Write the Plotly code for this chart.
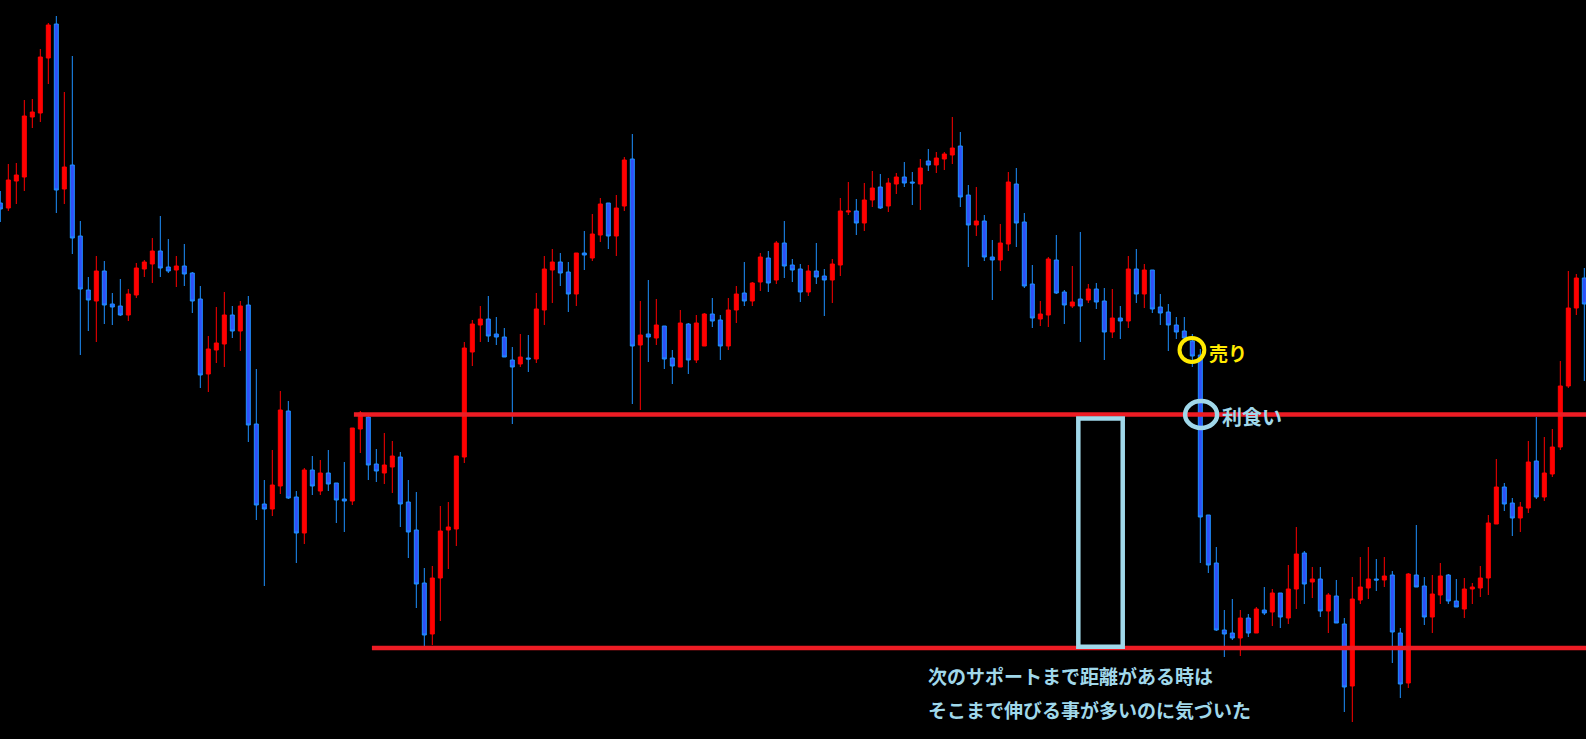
import plotly.graph_objects as go

# candle index (one per bar)
bars = list(range(199))

open_ = [537,532,559,563,623,627,682,716,551,575,
504,450,439,469,436,434,425,445,471,476,
489,473,470,474,467,441,366,390,396,425,
409,435,316,236,231,254,329,243,207,270,
249,267,257,241,239,311,323,276,267,273,
283,238,210,157,106,162,210,211,283,388,
415,421,406,403,380,376,382,381,430,470,
478,468,446,487,482,505,537,504,534,581,
395,406,402,414,382,373,416,380,394,426,
420,394,430,447,439,458,482,460,497,475,
471,448,469,464,460,475,528,529,517,540,
553,534,556,563,558,556,579,575,581,585,
594,545,515,519,483,480,496,556,518,456,
421,425,480,448,434,441,440,451,439,408,
422,419,471,446,470,433,428,415,409,399,
385,225,177,110,107,102,122,107,130,128,
147,122,151,187,158,161,129,144,116,54,
140,152,161,160,165,107,57,165,154,123,
145,165,139,131,151,152,162,216,253,237,
222,232,279,243,266,293,354,432,462]

high = [549,576,577,640,641,691,717,724,648,684,
519,463,484,479,447,461,451,477,480,502,
524,501,484,496,468,454,404,433,448,434,
439,444,371,260,290,349,339,249,272,284,
280,290,257,278,312,329,326,291,307,299,
288,260,248,172,174,234,238,284,398,420,
434,444,423,412,393,406,405,447,484,491,
487,478,487,509,526,542,537,545,583,606,
439,460,441,414,390,430,417,425,427,442,
425,442,454,478,458,487,489,499,519,481,
476,475,497,471,481,542,558,541,557,569,
566,562,567,578,568,581,591,588,588,623,
608,555,553,525,500,516,568,572,527,475,
439,483,505,450,474,508,456,457,452,451,
434,484,491,476,470,446,436,423,423,406,
391,225,193,130,141,130,126,133,153,151,
147,175,213,189,173,173,147,160,122,163,
183,193,181,183,169,112,167,215,163,165,
177,166,161,162,157,174,225,281,257,242,
238,299,323,303,311,379,469,466,472]

low = [518,529,536,549,612,618,656,527,536,486,
385,409,398,416,415,424,419,442,463,457,
463,467,453,454,427,352,348,377,373,402,
389,298,220,154,224,246,241,177,196,245,
245,249,217,208,235,287,260,258,256,247,
213,182,132,93,95,119,171,194,277,374,
398,398,395,383,316,373,368,377,415,437,
454,428,434,470,479,498,491,484,529,336,
330,378,395,371,356,373,366,377,394,413,
380,390,417,434,434,449,448,456,462,458,
438,444,456,424,437,464,525,505,509,533,
531,528,546,553,535,530,569,567,570,576,
533,473,504,479,440,469,489,493,452,412,
414,413,446,416,432,398,437,431,380,402,
401,412,437,432,427,415,389,401,398,373,
177,167,109,83,100,84,103,107,125,114,
112,116,131,136,142,123,107,117,28,18,
136,141,149,153,77,42,52,153,115,107,
136,136,133,122,136,143,145,216,229,204,
208,227,241,239,263,290,352,425,359]

close = [531,560,565,624,628,683,715,550,573,502,
451,440,469,435,433,425,446,472,478,489,
472,469,474,466,439,365,391,397,425,409,
434,315,235,231,255,330,242,207,270,254,
267,256,240,239,312,327,275,269,275,284,
236,208,156,105,162,209,213,284,392,416,
421,404,403,383,373,383,381,431,471,478,
467,446,487,485,506,536,504,532,580,394,
405,403,415,381,374,417,380,417,426,419,
394,430,446,439,457,483,457,497,474,470,
448,469,463,460,476,529,529,517,540,552,
532,557,563,557,557,572,575,582,586,592,
543,515,519,483,480,497,558,517,454,422,
426,481,447,435,438,434,451,438,408,422,
419,471,446,470,431,427,415,408,402,384,
223,175,110,106,102,122,107,131,127,147,
123,151,186,156,161,129,145,117,53,141,
153,161,160,164,108,56,166,153,123,146,
164,139,133,151,153,162,217,253,236,222,
233,278,243,267,293,354,432,462,436]

# horizontal levels (resistance / support) and their start bars
resistance_level = 325.5
resistance_start = 44.2
support_level = 92
support_start = 46.45

RED_LINE = "#ED1C24"
LIGHT_BLUE = "#A0D8EA"
YELLOW = "#FFEA00"
FONT = "Noto Sans CJK JP"

fig = go.Figure()
fig.add_trace(go.Candlestick(
    x=bars, open=open_, high=high, low=low, close=close,
    increasing=dict(line=dict(color="#FF0000", width=1), fillcolor="#FF0000"),
    decreasing=dict(line=dict(color="#1E90FF", width=1), fillcolor="#3050F8"),
    whiskerwidth=0, showlegend=False, hoverinfo="skip",
))

shapes = [
    dict(type="line", xref="x", yref="y", x0=resistance_start, x1=199,
         y0=resistance_level, y1=resistance_level, line=dict(color=RED_LINE, width=4.5)),
    dict(type="line", xref="x", yref="y", x0=support_start, x1=199,
         y0=support_level, y1=support_level, line=dict(color=RED_LINE, width=4.5)),
    dict(type="rect", xref="x", yref="y", x0=134.75, x1=140.3, y0=93.2, y1=321.5,
         line=dict(color=LIGHT_BLUE, width=4.5)),
    dict(type="circle", xref="x", yref="y", x0=147.4, x1=150.5, y0=378, y1=402,
         line=dict(color=YELLOW, width=4)),
    dict(type="circle", xref="x", yref="y", x0=148.1, x1=152.1, y0=312, y1=339,
         line=dict(color=LIGHT_BLUE, width=4.5)),
]

annotations = [
    dict(text="<b>売り</b>", x=150.8, y=388, xref="x", yref="y", xanchor="left",
         yanchor="middle", showarrow=False, font=dict(family=FONT, size=19, color=YELLOW)),
    dict(text="<b>利食い</b>", x=152.4, y=324, xref="x", yref="y", xanchor="left",
         yanchor="middle", showarrow=False, font=dict(family=FONT, size=20, color=LIGHT_BLUE)),
    dict(text="<b>次のサポートまで距離がある時は</b>", x=115.7, y=65, xref="x", yref="y",
         xanchor="left", yanchor="middle", showarrow=False,
         font=dict(family=FONT, size=19, color=LIGHT_BLUE)),
    dict(text="<b>そこまで伸びる事が多いのに気づいた</b>", x=115.7, y=31, xref="x", yref="y",
         xanchor="left", yanchor="middle", showarrow=False,
         font=dict(family=FONT, size=19, color=LIGHT_BLUE)),
]

fig.update_layout(
    width=1586, height=739,
    margin=dict(l=0, r=0, t=0, b=0, pad=0),
    paper_bgcolor="black", plot_bgcolor="black",
    boxgap=0.5, boxgroupgap=0,
    hovermode=False,
    shapes=shapes, annotations=annotations,
    xaxis=dict(range=[-0.04, 198.21], visible=False, showgrid=False, zeroline=False,
               rangeslider=dict(visible=False), fixedrange=True),
    yaxis=dict(range=[1, 740], visible=False, showgrid=False, zeroline=False, fixedrange=True),
)

fig.write_html("out.html", config={"displayModeBar": False},
               post_script="document.body.style.margin='0';document.body.style.background='black';document.body.style.overflow='hidden';")
